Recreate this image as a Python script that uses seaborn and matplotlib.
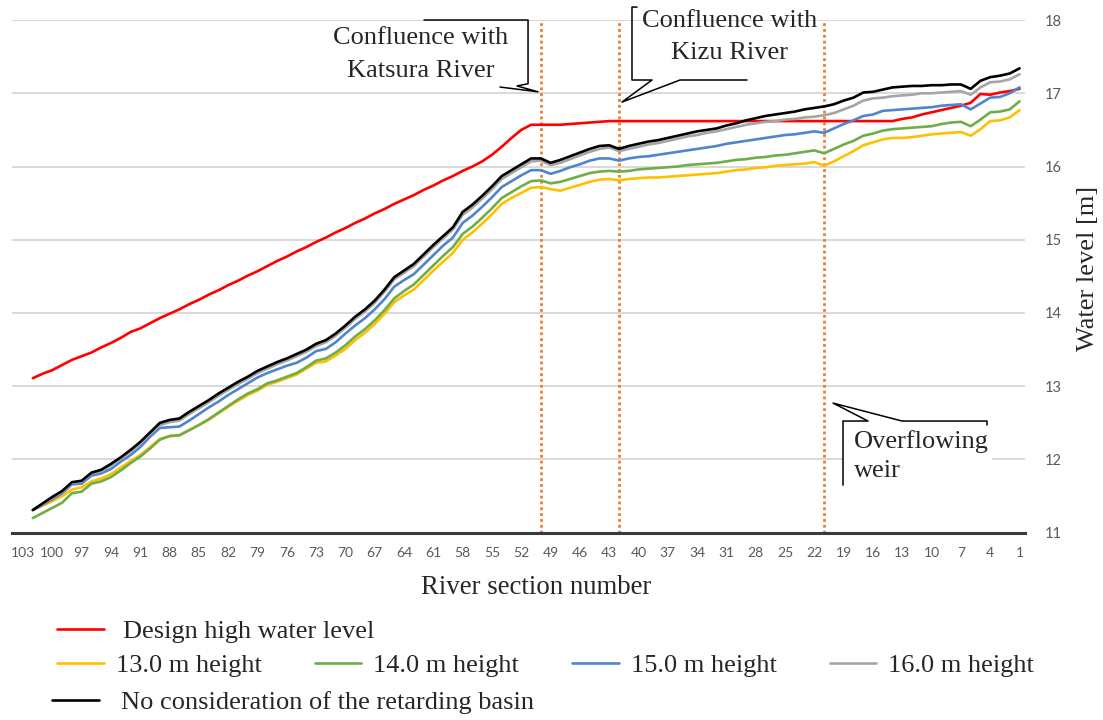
import numpy as np
import pandas as pd
import seaborn as sns
import matplotlib.pyplot as plt
from matplotlib.patches import Rectangle

# river sections, upstream (103) to downstream (1)
sections = list(range(102, 0, -1))

design_level = [13.11, 13.17, 13.22, 13.29, 13.36, 13.41, 13.46, 13.53, 13.59, 13.66,
                13.74, 13.79, 13.86, 13.93, 13.99, 14.05, 14.12, 14.18, 14.25, 14.31,
                14.38, 14.44, 14.51, 14.57, 14.64, 14.71, 14.77, 14.84, 14.90, 14.97,
                15.03, 15.10, 15.16, 15.23, 15.29, 15.36, 15.42, 15.49, 15.55, 15.61,
                15.68, 15.74, 15.81, 15.87, 15.94, 16.00, 16.07, 16.16, 16.27, 16.39,
                16.50, 16.57, 16.57, 16.57, 16.57, 16.58, 16.59, 16.60, 16.61, 16.62,
                16.62, 16.62, 16.62, 16.62, 16.62, 16.62, 16.62, 16.62, 16.62, 16.62,
                16.62, 16.62, 16.62, 16.62, 16.62, 16.62, 16.62, 16.62, 16.62, 16.62,
                16.62, 16.62, 16.62, 16.62, 16.62, 16.62, 16.62, 16.62, 16.62, 16.65,
                16.67, 16.71, 16.74, 16.77, 16.80, 16.83, 16.87, 16.99, 16.98, 17.01,
                17.03, 17.06]

h13 = [11.31, 11.37, 11.43, 11.50, 11.59, 11.62, 11.70, 11.74, 11.80, 11.89,
       11.98, 12.06, 12.17, 12.28, 12.32, 12.33, 12.40, 12.47, 12.54, 12.63,
       12.72, 12.80, 12.88, 12.94, 13.02, 13.06, 13.11, 13.16, 13.24, 13.32,
       13.34, 13.42, 13.51, 13.63, 13.73, 13.85, 13.99, 14.15, 14.24, 14.32,
       14.45, 14.58, 14.70, 14.82, 15.00, 15.10, 15.22, 15.35, 15.49, 15.57,
       15.64, 15.71, 15.72, 15.69, 15.67, 15.71, 15.75, 15.79, 15.82, 15.83,
       15.81, 15.83, 15.84, 15.85, 15.85, 15.86, 15.87, 15.88, 15.89, 15.90,
       15.91, 15.93, 15.95, 15.96, 15.98, 15.99, 16.01, 16.02, 16.03, 16.04,
       16.06, 16.01, 16.07, 16.14, 16.21, 16.29, 16.33, 16.37, 16.39, 16.39,
       16.40, 16.42, 16.44, 16.45, 16.46, 16.47, 16.42, 16.51, 16.62, 16.63,
       16.67, 16.77]

h14 = [11.20, 11.27, 11.34, 11.41, 11.54, 11.56, 11.67, 11.70, 11.76, 11.85,
       11.95, 12.04, 12.15, 12.27, 12.32, 12.33, 12.40, 12.47, 12.55, 12.64,
       12.73, 12.82, 12.90, 12.96, 13.04, 13.08, 13.13, 13.18, 13.26, 13.35,
       13.38, 13.46, 13.56, 13.68, 13.78, 13.90, 14.04, 14.20, 14.30, 14.39,
       14.52, 14.65, 14.78, 14.90, 15.08, 15.18, 15.30, 15.43, 15.57, 15.65,
       15.73, 15.80, 15.81, 15.77, 15.79, 15.83, 15.87, 15.91, 15.93, 15.94,
       15.93, 15.94, 15.96, 15.97, 15.98, 15.99, 16.00, 16.02, 16.03, 16.04,
       16.05, 16.07, 16.09, 16.10, 16.12, 16.13, 16.15, 16.16, 16.18, 16.20,
       16.22, 16.18, 16.24, 16.30, 16.35, 16.42, 16.45, 16.49, 16.51, 16.52,
       16.53, 16.54, 16.55, 16.58, 16.60, 16.61, 16.55, 16.64, 16.74, 16.75,
       16.78, 16.89]

h15 = [11.31, 11.38, 11.46, 11.54, 11.66, 11.67, 11.78, 11.81, 11.87, 11.97,
       12.06, 12.17, 12.31, 12.43, 12.44, 12.45, 12.53, 12.62, 12.71, 12.79,
       12.88, 12.96, 13.04, 13.12, 13.18, 13.23, 13.28, 13.32, 13.39, 13.48,
       13.51, 13.60, 13.72, 13.83, 13.93, 14.05, 14.19, 14.36, 14.45, 14.53,
       14.66, 14.79, 14.92, 15.03, 15.23, 15.33, 15.45, 15.58, 15.72, 15.80,
       15.88, 15.95, 15.95, 15.90, 15.94, 15.99, 16.03, 16.08, 16.11, 16.11,
       16.08, 16.11, 16.13, 16.14, 16.16, 16.18, 16.20, 16.22, 16.24, 16.26,
       16.28, 16.31, 16.33, 16.35, 16.37, 16.39, 16.41, 16.43, 16.44, 16.46,
       16.48, 16.46, 16.52, 16.58, 16.63, 16.69, 16.71, 16.76, 16.77, 16.78,
       16.79, 16.80, 16.81, 16.83, 16.84, 16.85, 16.78, 16.86, 16.94, 16.95,
       17.00, 17.08]

h16 = [11.31, 11.39, 11.48, 11.56, 11.68, 11.70, 11.81, 11.84, 11.92, 12.01,
       12.11, 12.22, 12.35, 12.47, 12.51, 12.53, 12.62, 12.70, 12.78, 12.87,
       12.95, 13.03, 13.10, 13.18, 13.24, 13.30, 13.35, 13.41, 13.47, 13.55,
       13.60, 13.69, 13.80, 13.92, 14.02, 14.14, 14.29, 14.46, 14.55, 14.64,
       14.77, 14.90, 15.02, 15.14, 15.34, 15.44, 15.56, 15.69, 15.83, 15.91,
       15.99, 16.07, 16.08, 16.02, 16.05, 16.10, 16.15, 16.20, 16.24, 16.26,
       16.21, 16.24, 16.27, 16.30, 16.32, 16.35, 16.38, 16.41, 16.43, 16.46,
       16.48, 16.51, 16.54, 16.57, 16.59, 16.61, 16.62, 16.64, 16.65, 16.67,
       16.68, 16.70, 16.73, 16.78, 16.83, 16.90, 16.93, 16.94, 16.96, 16.97,
       16.98, 17.00, 17.00, 17.01, 17.02, 17.03, 16.98, 17.08, 17.15, 17.16,
       17.19, 17.26]

no_basin = [11.31, 11.40, 11.49, 11.57, 11.69, 11.71, 11.82, 11.86, 11.94, 12.03,
            12.13, 12.24, 12.37, 12.50, 12.54, 12.56, 12.65, 12.73, 12.81, 12.90,
            12.98, 13.06, 13.13, 13.21, 13.27, 13.33, 13.38, 13.44, 13.50, 13.58,
            13.63, 13.72, 13.83, 13.95, 14.05, 14.17, 14.32, 14.49, 14.58, 14.67,
            14.80, 14.93, 15.05, 15.17, 15.38, 15.48, 15.60, 15.73, 15.87, 15.95,
            16.03, 16.11, 16.11, 16.05, 16.09, 16.14, 16.19, 16.24, 16.28, 16.29,
            16.24, 16.28, 16.31, 16.34, 16.36, 16.39, 16.42, 16.45, 16.48, 16.50,
            16.52, 16.56, 16.59, 16.63, 16.66, 16.69, 16.71, 16.73, 16.75, 16.78,
            16.80, 16.82, 16.85, 16.90, 16.94, 17.01, 17.02, 17.05, 17.08, 17.09,
            17.10, 17.10, 17.11, 17.11, 17.12, 17.12, 17.06, 17.17, 17.22, 17.24,
            17.27, 17.34]

series_names = ["Design high water level", "13.0 m height", "14.0 m height",
                "15.0 m height", "16.0 m height",
                "No consideration of the retarding basin"]
series_colors = ["#FF0000", "#FFC000", "#70AD47", "#4F85CC", "#A5A5A5", "#000000"]

# sections where the marked features are
katsura_sec = 50
kizu_sec = 42
weir_sec = 21

df = pd.DataFrame({"section": sections,
                   series_names[0]: design_level,
                   series_names[1]: h13,
                   series_names[2]: h14,
                   series_names[3]: h15,
                   series_names[4]: h16,
                   series_names[5]: no_basin})
long_df = df.melt(id_vars="section", var_name="series", value_name="level")

sns.set_style("white")
serif = ["Liberation Serif", "DejaVu Serif"]
tick_font = ["Lato", "DejaVu Sans"]
plt.rcParams["font.family"] = serif

fig = plt.figure(figsize=(11.03, 7.2), dpi=100)
ax = fig.add_axes([0.0109, 0.2601, 0.9184, 0.7121])

sns.lineplot(data=long_df, x="section", y="level", hue="series",
             hue_order=series_names, palette=series_colors,
             estimator=None, linewidth=1.9, legend=False, ax=ax)

for sec in [katsura_sec, kizu_sec, weir_sec]:
    ax.axvline(sec, ymin=0, ymax=1, color="#ED7D31", lw=2.0,
               linestyle=(0, (1, 1.1)), zorder=1)

ax.set_xlim(104.13, 0.44)
ax.set_ylim(11, 18)
ax.set_xticks(list(range(103, 0, -3)))
ax.set_xticklabels([str(s) for s in range(103, 0, -3)],
                   fontfamily=tick_font, fontsize=10, color="#595959")
ax.set_yticks(list(range(11, 19)))
ax.set_yticklabels([str(v) for v in range(11, 19)],
                   fontfamily=tick_font, fontsize=10.5, color="#595959")
ax.yaxis.tick_right()
ax.yaxis.set_label_position("right")
ax.tick_params(axis="x", length=0, pad=10)
ax.tick_params(axis="y", length=0, pad=14)
ax.grid(axis="y", color="#D9D9D9", lw=1.4, zorder=0)
ax.grid(axis="x", visible=False)
for side in ["top", "left", "right"]:
    ax.spines[side].set_visible(False)
ax.spines["bottom"].set_color("#3A3A3A")
ax.spines["bottom"].set_linewidth(2.2)
ax.set_axisbelow(True)

ax.set_xlabel("River section number", fontsize=19.3)
ax.xaxis.set_label_coords(0.517, -0.082)
ax.set_ylabel("Water level [m]", fontsize=19)
ax.yaxis.set_label_coords(1.051, 0.515)

# callout for Katsura River confluence
ax.plot([61.96, 51.31, 51.31, 52.44, 50.29, 54.18],
        [18.0, 18.0, 17.13, 17.10, 17.02, 17.085],
        color="black", lw=1.1, clip_on=False, zorder=5)
ax.text(62.26, 17.75, "Confluence with", fontsize=19, ha="center", va="center")
ax.text(62.26, 17.31, "Katsura River", fontsize=19, ha="center", va="center")

# callout for Kizu River confluence
ax.plot([40.15, 40.67, 40.67, 38.62, 41.69, 35.75, 28.9],
        [18.177, 18.177, 17.181, 17.181, 16.88, 17.181, 17.181],
        color="black", lw=1.1, clip_on=False, zorder=5)
ax.text(30.64, 17.98, "Confluence with", fontsize=19, ha="center", va="center")
ax.text(30.64, 17.55, "Kizu River", fontsize=19, ha="center", va="center")

# callout for the overflowing weir
ax.add_patch(Rectangle((19.07, 11.65), -15.3, 0.875, facecolor="white",
                       edgecolor="none", zorder=2))
ax.plot([19.07, 19.07, 16.51, 20.09, 13.03, 4.33, 4.33],
        [11.65, 12.525, 12.525, 12.77, 12.525, 12.525, 12.47],
        color="black", lw=1.1, zorder=5)
ax.text(17.94, 12.25, "Overflowing", fontsize=19, ha="left", va="center")
ax.text(17.94, 11.84, "weir", fontsize=19, ha="left", va="center")

# legend rows laid out as in the original
lines = ax.get_lines()[:6]
leg_kw = dict(frameon=False, fontsize=19, borderpad=0, borderaxespad=0,
              handlelength=1.78)
fig.legend(handles=[lines[0]], labels=[series_names[0]], loc="center left",
           bbox_to_anchor=(57 / 1103, 1 - 631 / 720), handletextpad=0.72,
           **leg_kw)
fig.legend(handles=lines[1:5], labels=series_names[1:5], loc="center left",
           bbox_to_anchor=(57 / 1103, 1 - 665 / 720), ncol=4,
           handletextpad=0.45, columnspacing=2.0, **leg_kw)
fig.legend(handles=[lines[5]], labels=[series_names[5]], loc="center left",
           bbox_to_anchor=(52 / 1103, 1 - 702 / 720), handletextpad=0.83,
           **leg_kw)

fig.savefig("out.png", dpi=100)
